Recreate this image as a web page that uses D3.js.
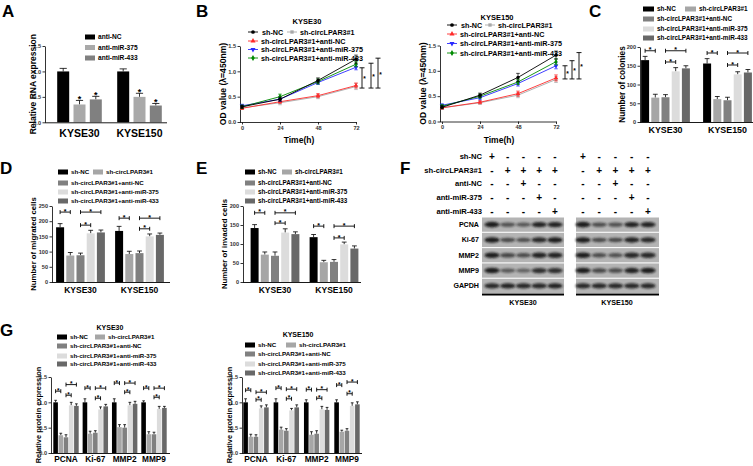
<!DOCTYPE html>
<html><head><meta charset="utf-8">
<script src="https://cdn.jsdelivr.net/npm/d3@7"></script>
<style>
body{margin:0;background:#fff}
svg{display:block}
text{font-family:"Liberation Sans",Arial,Helvetica,sans-serif;font-weight:bold}
</style>
</head><body>
<svg id="c" width="753" height="466"></svg>
<script>
// ---------------- DATA ----------------
const cellLines = ["KYSE30", "KYSE150"];
const groupSeries = ["sh-NC", "sh-circLPAR3#1", "sh-circLPAR3#1+anti-NC", "sh-circLPAR3#1+anti-miR-375", "sh-circLPAR3#1+anti-miR-433"];

// A
const aSeries = ["anti-NC", "anti-miR-375", "anti-miR-433"];
const aValues = [[1.00, 0.35, 0.45], [1.00, 0.50, 0.33]];
const aErrors = [[0.06, 0.08, 0.06], [0.05, 0.07, 0.04]];
const aSig = [[0, 1, 1], [0, 1, 1]];
const ratioTicks = [0, 0.5, 1.0, 1.5];

// B
const bTimes = [0, 24, 48, 72];
const bKYSE30 = [[0.30, 0.45, 0.82, 1.24], [0.28, 0.38, 0.50, 0.70], [0.27, 0.40, 0.52, 0.72], [0.32, 0.45, 0.78, 1.08], [0.30, 0.50, 0.80, 1.14]];
const bKYSE30Err = [[0.03, 0.04, 0.05, 0.08], [0.02, 0.04, 0.04, 0.06], [0.02, 0.03, 0.04, 0.05], [0.03, 0.04, 0.04, 0.05], [0.03, 0.05, 0.05, 0.05]];
const bKYSE150 = [[0.28, 0.52, 0.87, 1.31], [0.27, 0.37, 0.52, 0.83], [0.27, 0.38, 0.55, 0.86], [0.32, 0.47, 0.75, 1.10], [0.30, 0.50, 0.78, 1.18]];
const bKYSE150Err = [[0.03, 0.04, 0.08, 0.08], [0.02, 0.03, 0.05, 0.06], [0.02, 0.03, 0.05, 0.06], [0.03, 0.04, 0.05, 0.06], [0.03, 0.04, 0.05, 0.06]];
const bBrackets30 = [[1.07, 0.67], [1.16, 0.67], [1.26, 0.67]];
const bBrackets150 = [[1.10, 0.84], [1.20, 0.84], [1.36, 0.84]];

// C
const cTicks = [0, 50, 100, 150, 200];
const cValues = [[165, 65, 66, 135, 143], [156, 61, 58, 127, 132]];
const cErrors = [[10, 9, 7, 10, 7], [13, 7, 8, 7, 8]];
const cBrackets = [[0, 0, 1, 190], [0, 2, 4, 190], [0, 2, 3, 160], [1, 0, 1, 184], [1, 2, 4, 184], [1, 2, 3, 152]];

// D
const dTicks = [0, 50, 100, 150, 200, 250];
const dValues = [[180, 87, 88, 160, 163], [168, 92, 95, 150, 155]];
const dErrors = [[12, 10, 7, 10, 8], [15, 9, 7, 8, 6]];
const dBrackets = [[0, 0, 1, 230], [0, 2, 4, 230], [0, 2, 3, 187], [1, 0, 1, 210], [1, 2, 4, 210], [1, 2, 3, 175]];

// E
const eTicks = [0, 50, 100, 150, 200];
const eValues = [[142, 72, 69, 130, 126], [118, 52, 53, 99, 88]];
const eErrors = [[9, 7, 10, 10, 6], [7, 5, 6, 6, 7]];
const eBrackets = [[0, 0, 1, 182], [0, 2, 4, 182], [0, 2, 3, 155], [1, 0, 1, 147], [1, 2, 4, 147], [1, 2, 3, 116]];

// F
const fTreatments = ["sh-NC", "sh-circLPAR3#1", "anti-NC", "anti-miR-375", "anti-miR-433"];
const fSigns = [["+", "-", "-", "-", "-"], ["-", "+", "+", "+", "+"], ["-", "-", "+", "-", "-"], ["-", "-", "-", "+", "-"], ["-", "-", "-", "-", "+"]];
const fProteins = ["PCNA", "Ki-67", "MMP2", "MMP9", "GAPDH"];
const fBands30 = [[1, 0.55, 0.5, 0.95, 0.95], [1, 0.6, 0.55, 0.9, 1], [1, 0.65, 0.6, 0.95, 0.95], [1, 0.5, 0.4, 0.85, 0.85], [0.9, 0.95, 0.9, 0.9, 0.95]];
const fBands150 = [[1, 0.6, 0.55, 0.95, 0.95], [1, 0.6, 0.6, 0.95, 0.9], [1, 0.6, 0.55, 0.9, 0.9], [1, 0.65, 0.6, 0.95, 1], [0.9, 0.9, 0.9, 0.9, 0.9]];

// G
const gProteins = ["PCNA", "Ki-67", "MMP2", "MMP9"];
const gKYSE30 = [[1.00, 0.35, 0.31, 0.94, 0.93], [1.00, 0.38, 0.40, 0.86, 0.92], [1.00, 0.51, 0.50, 0.94, 0.97], [1.00, 0.37, 0.37, 0.87, 0.89]];
const gKYSE30Err = [[0.04, 0.04, 0.05, 0.06, 0.04], [0.07, 0.05, 0.04, 0.05, 0.04], [0.07, 0.05, 0.06, 0.06, 0.05], [0.03, 0.05, 0.04, 0.05, 0.03]];
const gKYSE30Brackets = [[0, 0, 1, 1.22], [0, 2, 4, 1.35], [0, 2, 3, 1.14], [1, 0, 1, 1.28], [1, 2, 4, 1.28], [1, 2, 3, 1.08], [2, 0, 1, 1.38], [2, 2, 4, 1.38], [2, 2, 3, 1.20], [3, 0, 1, 1.28], [3, 2, 4, 1.28], [3, 2, 3, 1.10]];
const gKYSE150 = [[1.00, 0.32, 0.32, 0.88, 0.90], [1.00, 0.46, 0.44, 0.84, 0.90], [1.00, 0.36, 0.38, 0.86, 0.85], [1.00, 0.42, 0.44, 0.93, 0.96]];
const gKYSE150Err = [[0.07, 0.05, 0.04, 0.05, 0.05], [0.07, 0.05, 0.04, 0.04, 0.05], [0.05, 0.06, 0.06, 0.06, 0.05], [0.05, 0.03, 0.04, 0.06, 0.05]];
const gKYSE150Brackets = [[0, 0, 1, 1.24], [0, 2, 4, 1.20], [0, 2, 3, 1.05], [1, 0, 1, 1.28], [1, 2, 4, 1.26], [1, 2, 3, 1.07], [2, 0, 1, 1.25], [2, 2, 4, 1.25], [2, 2, 3, 1.08], [3, 0, 1, 1.34], [3, 2, 4, 1.40], [3, 2, 3, 1.17]];

// ---------------- STYLE ----------------
const barColors5 = ["#000000", "#a6a6a6", "#808080", "#dcdcdc", "#686868"];
const barColors3 = ["#000000", "#a9a9a9", "#808080"];
const lineColors = ["#000000", "#a8a8a8", "#ff2a2a", "#2a2aff", "#008a00"];
const lineSymbols = [d3.symbolCircle, d3.symbolSquare, d3.symbolTriangle, d3.symbolTriangle, d3.symbolDiamond];
const lineSymRot = [0, 0, 0, 180, 0];

const svg = d3.select("#c");

function T(x, y, s, fs, anchor = "start", rot = 0, fill = "#000") {
  const t = svg.append("text").attr("x", x).attr("y", y).attr("font-size", fs)
    .attr("text-anchor", anchor).attr("fill", fill).text(s);
  if (rot) t.attr("transform", `rotate(${rot},${x},${y})`);
  return t;
}
function L(x1, y1, x2, y2, w = 0.8, c = "#000") {
  return svg.append("line").attr("x1", x1).attr("y1", y1).attr("x2", x2).attr("y2", y2)
    .attr("stroke", c).attr("stroke-width", w);
}
function yAxis(x, y, ticks, fmt, fs = 5.6) {
  const ax = d3.axisLeft(y).tickValues(ticks).tickFormat(fmt).tickSizeInner(2.5).tickSizeOuter(0).tickPadding(1.5);
  const a = svg.append("g").attr("transform", `translate(${x},0)`).call(ax);
  a.selectAll("text").attr("font-size", fs).attr("fill", "#333")
    .attr("font-family", '"Liberation Sans",Arial,sans-serif').attr("font-weight", "bold");
  a.selectAll("line,path").attr("stroke", "#000").attr("stroke-width", 0.8);
  return a;
}
function ylabel(x, yc, s, fs) {
  T(x, yc, s, fs, "middle", -90).attr("dy", "0.35em");
}

function barChart(o) {
  const y = d3.scaleLinear().domain([0, o.yMax]).range([o.yBase, o.yTop]);
  const xg = d3.scalePoint().domain(o.groups).range([o.gc0, o.gc1]);
  const n = o.values[0].length;
  const span = o.pitch * (n - 1) + o.bw;
  const xb = d3.scaleBand().domain(d3.range(n)).range([-span / 2, span / 2])
    .paddingInner(1 - o.bw / o.pitch).paddingOuter(0);
  const bw = xb.bandwidth();
  const cx = (gi, si) => xg(o.groups[gi]) + xb(si) + bw / 2;
  o.groups.forEach((gr, gi) => {
    o.values[gi].forEach((v, si) => {
      const c = cx(gi, si);
      const top = y(v + o.errors[gi][si]);
      L(c, y(v), c, top, 0.8);
      L(c - bw * 0.3, top, c + bw * 0.3, top, 0.8);
      svg.append("rect").attr("x", c - bw / 2).attr("y", y(v)).attr("width", bw)
        .attr("height", o.yBase - y(v)).attr("fill", o.colors[si]);
      if (o.sig && o.sig[gi][si]) T(c, top + 1.5, "*", o.sigFs || 9, "middle");
    });
    T(xg(gr), o.catY, gr, o.catFs, "middle");
  });
  yAxis(o.x0, y, o.ticks, o.fmt, o.tickFs);
  L(o.x0, o.yBase + 0.5, o.x1, o.yBase + 0.5, 0.9);
  (o.brackets || []).forEach(([gi, i, j, val]) => {
    const x1 = cx(gi, i), x2 = cx(gi, j), yy = y(val);
    L(x1, yy, x2, yy, 0.9);
    L(x1, yy - 2, x1, yy + 2, 0.9);
    L(x2, yy - 2, x2, yy + 2, 0.9);
    T((x1 + x2) / 2, yy + 1.6, "*", o.bFs || 7, "middle");
  });
  ylabel(o.ylx, (o.yBase + o.yTop) / 2, o.ylabel, o.ylFs);
}

function legend5(x, x2, rows, fs, colors, sw = 10, sh = 5) {
  const pos = [[x, rows[0]], [x2, rows[0]], [x, rows[1]], [x, rows[2]], [x, rows[3]]];
  groupSeries.forEach((s, i) => {
    const [px, py] = pos[i];
    svg.append("rect").attr("x", px).attr("y", py - sh / 2).attr("width", sw).attr("height", sh).attr("fill", colors[i]);
    T(px + sw + 3, py, s, fs).attr("dy", "0.35em");
  });
}

function lineChart(o) {
  const x = d3.scaleLinear().domain([0, 72]).range([o.xs, o.xe]);
  const y = d3.scaleLinear().domain([0, 1.5]).range([o.yBase, o.yTop]);
  yAxis(o.ax, y, ratioTicks, d3.format(".1f"));
  const xa = d3.axisBottom(x).tickValues(bTimes).tickSizeInner(2.5).tickSizeOuter(0).tickPadding(1.5);
  const a = svg.append("g").attr("transform", `translate(0,${o.yBase})`).call(xa);
  a.selectAll("text").attr("font-size", 5.6).attr("fill", "#333")
    .attr("font-family", '"Liberation Sans",Arial,sans-serif').attr("font-weight", "bold");
  a.selectAll("line,path").attr("stroke", "#000").attr("stroke-width", 0.8);
  L(o.ax, o.yBase + 0.5, o.xs, o.yBase + 0.5, 0.8);
  const line = d3.line().x((d, i) => x(bTimes[i])).y(d => y(d));
  const order = [1, 2, 3, 4, 0];
  order.forEach(si => {
    const vals = o.data[si], errs = o.err[si];
    svg.append("path").attr("d", line(vals)).attr("fill", "none").attr("stroke", lineColors[si]).attr("stroke-width", 0.9);
    vals.forEach((v, i) => {
      const cx = x(bTimes[i]);
      L(cx, y(v - errs[i]), cx, y(v + errs[i]), 0.7, lineColors[si]);
      L(cx - 1.8, y(v + errs[i]), cx + 1.8, y(v + errs[i]), 0.7, lineColors[si]);
      L(cx - 1.8, y(v - errs[i]), cx + 1.8, y(v - errs[i]), 0.7, lineColors[si]);
      svg.append("path").attr("d", d3.symbol().type(lineSymbols[si]).size(9)())
        .attr("transform", `translate(${cx},${y(v)}) rotate(${lineSymRot[si]})`).attr("fill", lineColors[si]);
    });
  });
  o.brackets.forEach(([top, bot], i) => {
    const bx = o.bx[i];
    L(bx, y(top), bx, y(bot), 0.9);
    L(bx - 2.5, y(top), bx + 2.5, y(top), 0.9);
    L(bx - 2.5, y(bot), bx + 2.5, y(bot), 0.9);
    T(bx + 1.2, (y(top) + y(bot)) / 2 + 3.5, "*", 6.5);
  });
  // legend
  const lg = (lx, ly, si, tx) => {
    L(lx, ly, lx + 10, ly, 0.9, lineColors[si]);
    svg.append("path").attr("d", d3.symbol().type(lineSymbols[si]).size(11)())
      .attr("transform", `translate(${lx + 5},${ly}) rotate(${lineSymRot[si]})`).attr("fill", lineColors[si]);
    T(tx, ly, groupSeries[si], o.lgFs).attr("dy", "0.35em");
  };
  lg(o.lgx, o.lgRows[0], 0, o.lgx + 14);
  lg(o.lgx2, o.lgRows[0], 1, o.lgx2 + 13);
  lg(o.lgx, o.lgRows[1], 2, o.lgx + 13);
  lg(o.lgx, o.lgRows[2], 3, o.lgx + 13);
  lg(o.lgx, o.lgRows[3], 4, o.lgx + 13);
  T(o.titleX, o.titleY, o.title, 7.5, "middle");
  T((o.xs + o.xe) / 2, 143, "Time(h)", 8.5, "middle");
  ylabel(o.ax - 17, (o.yBase + o.yTop) / 2, "OD value (λ=450nm)", 8.6);
}

// ---------------- PANEL LETTERS ----------------
[["A", 2, 17], ["B", 196, 17], ["C", 589, 17], ["D", 0, 174], ["E", 196, 174], ["F", 400, 174], ["G", 0, 336]]
  .forEach(([s, x, y]) => T(x, y, s, 17));

// ---------------- A ----------------
barChart({
  x0: 45, x1: 167, yBase: 122.3, yTop: 46, yMax: 1.5, ticks: ratioTicks, fmt: d3.format(".1f"),
  groups: cellLines, gc0: 79.5, gc1: 139.5, pitch: 16.3, bw: 12, values: aValues, errors: aErrors,
  colors: barColors3, sig: aSig, sigFs: 9, catY: 137, catFs: 10.5,
  ylabel: "Relative RNA expression", ylx: 33, ylFs: 8.5
});
aSeries.forEach((s, i) => {
  const yy = [37, 47.5, 58][i];
  svg.append("rect").attr("x", 85).attr("y", yy - 2.5).attr("width", 10).attr("height", 5).attr("fill", barColors3[i]);
  T(98, yy, s, 6.6).attr("dy", "0.35em");
});

// ---------------- B ----------------
lineChart({
  ax: 240, xs: 242, xe: 356, yBase: 122, yTop: 46, data: bKYSE30, err: bKYSE30Err,
  brackets: bBrackets30, bx: [362, 371, 378],
  lgx: 248, lgx2: 287, lgRows: [32, 41, 49.5, 58], lgFs: 7.2, title: "KYSE30", titleX: 307, titleY: 24
});
lineChart({
  ax: 440, xs: 442, xe: 556, yBase: 121.5, yTop: 45.5, data: bKYSE150, err: bKYSE150Err,
  brackets: bBrackets150, bx: [565, 572, 579],
  lgx: 447, lgx2: 485, lgRows: [25, 34, 43.5, 53], lgFs: 7.2, title: "KYSE150", titleX: 497, titleY: 20
});

// ---------------- C ----------------
barChart({
  x0: 640, x1: 753, yBase: 122, yTop: 47, yMax: 200, ticks: cTicks, fmt: d3.format("d"),
  groups: cellLines, gc0: 665.5, gc1: 727.5, pitch: 10.2, bw: 8, values: cValues, errors: cErrors,
  colors: barColors5, brackets: cBrackets, catY: 133, catFs: 8.9,
  ylabel: "Number of colonies", ylx: 622, ylFs: 8.2
});
legend5(643, 685, [9, 19, 29, 38], 6.4, barColors5, 11, 5);

// ---------------- D ----------------
barChart({
  x0: 52, x1: 170, yBase: 282, yTop: 206, yMax: 250, ticks: dTicks, fmt: d3.format("d"),
  groups: cellLines, gc0: 80.5, gc1: 139.5, pitch: 10.2, bw: 8, values: dValues, errors: dErrors,
  colors: barColors5, brackets: dBrackets, catY: 293, catFs: 8.5,
  ylabel: "Number of migrated cells", ylx: 33, ylFs: 7.8
});
legend5(58, 93, [172, 183, 192, 201], 6.2, barColors5, 10, 5);

// ---------------- E ----------------
barChart({
  x0: 243, x1: 361, yBase: 282, yTop: 206, yMax: 200, ticks: eTicks, fmt: d3.format("d"),
  groups: cellLines, gc0: 275, gc1: 334, pitch: 10.2, bw: 8, values: eValues, errors: eErrors,
  colors: barColors5, brackets: eBrackets, catY: 293, catFs: 8.5,
  ylabel: "Number of invaded cells", ylx: 224, ylFs: 7.8
});
legend5(245, 282, [172, 183, 192, 201], 6.3, barColors5, 10, 5);

// ---------------- F ----------------
const defs = svg.append("defs");
defs.append("filter").attr("id", "blur").attr("x", "-50%").attr("y", "-100%").attr("width", "200%").attr("height", "300%")
  .append("feGaussianBlur").attr("stdDeviation", 0.9);
const laneL = d3.scalePoint().domain(d3.range(5)).range([492, 555]);
const laneR = d3.scalePoint().domain(d3.range(5)).range([583, 648]);
const treatY = d3.scalePoint().domain(fTreatments).range([156.5, 211]);
fTreatments.forEach((t, ti) => {
  T(482, treatY(t), t, 7.6, "end").attr("dy", "0.35em");
  fSigns[ti].forEach((s, li) => {
    T(laneL(li), treatY(t), s, 10, "middle").attr("dy", "0.35em");
    T(laneR(li), treatY(t), s, 10, "middle").attr("dy", "0.35em");
  });
});
const stripY = d3.scaleBand().domain(fProteins).range([217.5, 293]).paddingInner(0.07);
[[482, 564, laneL, fBands30], [576, 659, laneR, fBands150]].forEach(([x0, x1, lane, bands]) => {
  fProteins.forEach((p, pi) => {
    const sy = stripY(p), sh = stripY.bandwidth();
    svg.append("rect").attr("x", x0).attr("y", sy).attr("width", x1 - x0).attr("height", sh).attr("fill", "#b4b4b4");
    bands[pi].forEach((v, li) => {
      svg.append("ellipse").attr("cx", lane(li)).attr("cy", sy + sh / 2).attr("rx", 7.6).attr("ry", 1.4 + 1.4 * v)
        .attr("fill", "#141414").attr("opacity", 0.25 + 0.7 * v).attr("filter", "url(#blur)");
    });
  });
  svg.append("rect").attr("x", x0).attr("y", 293.5).attr("width", x1 - x0).attr("height", 2).attr("fill", "#000");
});
fProteins.forEach(p => T(479, stripY(p) + stripY.bandwidth() / 2, p, 7.1, "end").attr("dy", "0.35em"));
T(523, 305, "KYSE30", 7.2, "middle");
T(617, 305, "KYSE150", 7.2, "middle");

// ---------------- G ----------------
barChart({
  x0: 51, x1: 170, yBase: 453, yTop: 377, yMax: 1.5, ticks: ratioTicks, fmt: d3.format(".1f"),
  groups: gProteins, gc0: 66, gc1: 154, pitch: 5.2, bw: 4.6, values: gKYSE30, errors: gKYSE30Err,
  colors: barColors5, brackets: gKYSE30Brackets, bFs: 6.5, catY: 462, catFs: 8.3,
  ylabel: "Relative protein expression", ylx: 38, ylFs: 7.4
});
legend5(57, 95, [337, 346, 356, 364], 6.1, barColors5, 10, 5);
T(110, 330, "KYSE30", 7, "middle");

barChart({
  x0: 242, x1: 362, yBase: 453, yTop: 377, yMax: 1.5, ticks: ratioTicks, fmt: d3.format(".1f"),
  groups: gProteins, gc0: 256, gc1: 347, pitch: 5.2, bw: 4.6, values: gKYSE150, errors: gKYSE150Err,
  colors: barColors5, brackets: gKYSE150Brackets, bFs: 6.5, catY: 462, catFs: 8.3,
  ylabel: "Relative protein expression", ylx: 229, ylFs: 7.4
});
legend5(245, 286, [345, 354, 364, 373], 6.2, barColors5, 10, 5);
T(298, 337, "KYSE150", 7, "middle");
</script>
</body></html>
